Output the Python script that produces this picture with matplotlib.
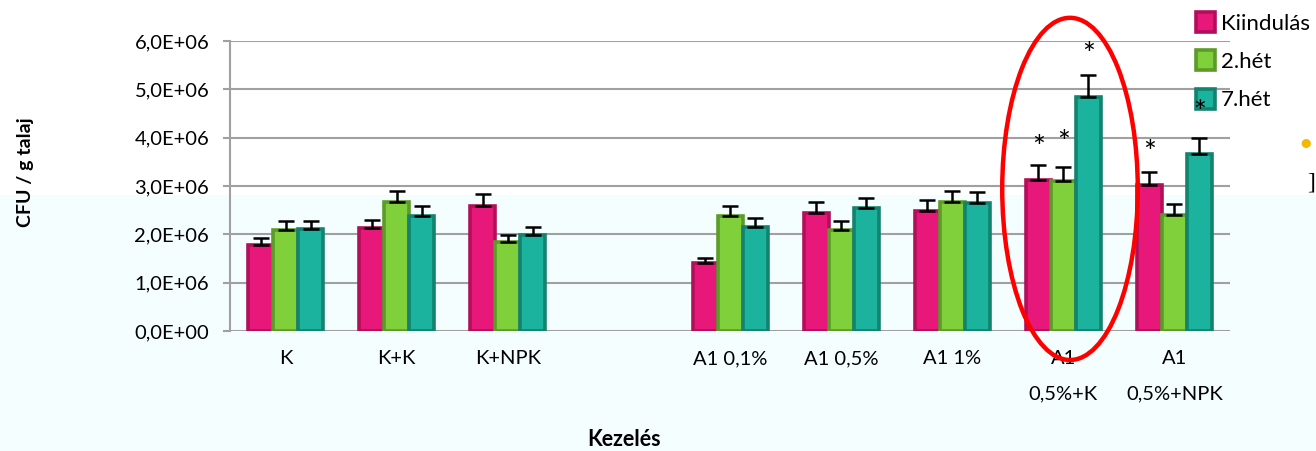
import matplotlib.pyplot as plt
import numpy as np
from matplotlib.patches import Ellipse, Rectangle

plt.rcParams['font.family'] = ['Lato', 'DejaVu Sans']

# treatments; the empty slot separates the controls from the A1 series
categories = ['K', 'K+K', 'K+NPK', '', 'A1 0,1%', 'A1 0,5%', 'A1 1%',
              'A1\n0,5%+K', 'A1\n0,5%+NPK']
series = ['Kiindulás', '2.hét', '7.hét']

kiindulas = [1.78e6, 2.13e6, 2.59e6, np.nan, 1.41e6, 2.44e6, 2.49e6, 3.13e6, 3.02e6]
het2 = [2.09e6, 2.66e6, 1.84e6, np.nan, 2.38e6, 2.08e6, 2.66e6, 3.11e6, 2.40e6]
het7 = [2.10e6, 2.37e6, 1.99e6, np.nan, 2.16e6, 2.54e6, 2.64e6, 4.85e6, 3.66e6]

err_kiindulas = [0.15e6, 0.17e6, 0.24e6, np.nan, 0.11e6, 0.22e6, 0.22e6, 0.30e6, 0.26e6]
err_het2 = [0.18e6, 0.23e6, 0.15e6, np.nan, 0.21e6, 0.19e6, 0.24e6, 0.29e6, 0.23e6]
err_het7 = [0.17e6, 0.21e6, 0.17e6, np.nan, 0.17e6, 0.22e6, 0.23e6, 0.45e6, 0.33e6]

# significance marks: (category index, series index, y position)
stars = [(7, 0, 3.78e6), (7, 1, 3.88e6), (7, 2, 5.7e6), (8, 0, 3.68e6), (8, 2, 4.5e6)]

faces = ['#e8187a', '#80d03c', '#1bb39d']
edges = ['#b20f5a', '#5d9b28', '#13826f']

fig = plt.figure(figsize=(13.16, 4.51), dpi=100)
fig.patch.set_facecolor('white')
fig.patches.append(Rectangle((0, 0), 1, 1 - 195 / 451, transform=fig.transFigure,
                             facecolor='#f5fefe', edgecolor='none', zorder=-10))

ax = fig.add_axes([230 / 1316, 1 - 331 / 451, 1000 / 1316, 290 / 451])
ax.patch.set_visible(False)

x = np.arange(len(categories))
w = 0.225
values = [kiindulas, het2, het7]
errors = [err_kiindulas, err_het2, err_het7]
for i in range(3):
    pos = x + (i - 1) * w
    ax.bar(pos, values[i], width=w, color=faces[i], edgecolor=edges[i],
           linewidth=2.6, label=series[i], zorder=3)
    ax.errorbar(pos, values[i], yerr=[np.zeros(len(x)), errors[i]], fmt='none',
                ecolor='black', elinewidth=1.8, capsize=5.5, capthick=1.8, zorder=4)

for ci, si, yv in stars:
    ax.text(x[ci] + (si - 1) * w, yv, '*', ha='center', va='center',
            fontsize=22, color='black', zorder=8, clip_on=False)

ax.set_xlim(-0.5, len(categories) - 0.5)
ax.set_ylim(0, 6e6)
ax.set_yticks(np.arange(0, 6.01e6, 1e6))
ax.set_yticklabels([f'{v:.1f}E+{"00" if v == 0 else "06"}'.replace('.', ',')
                    for v in np.arange(0, 6.01, 1.0)], fontsize=14.5)
ax.set_xticks(x)
ax.set_xticklabels(categories, fontsize=14.5, linespacing=2.3)
ax.tick_params(axis='x', length=0, pad=14)
ax.tick_params(axis='y', length=5, width=1.5, color='#a0a0a0', pad=10)
ax.yaxis.grid(True, color='#a0a0a0', linewidth=1.5, zorder=0)
for s in ['top', 'right', 'bottom']:
    ax.spines[s].set_visible(False)
ax.spines['left'].set_color('#a0a0a0')
ax.spines['left'].set_linewidth(1.5)

# highlight of the A1 0,5%+K group
ax.add_patch(Ellipse((7.06, 2.94e6), 1.22, 7.08e6, fill=False, edgecolor='#ff0000',
                     linewidth=3.2, clip_on=False, zorder=6))

leg = ax.legend(loc='upper left', bbox_to_anchor=(1184 / 1316, 1.0), bbox_transform=fig.transFigure,
                frameon=False, fontsize=16, handlelength=0.85, handleheight=1.0,
                handletextpad=0.25, labelspacing=0.75, borderaxespad=0.15)
leg.set_zorder(5)

fig.text(25 / 1316, 1 - 172 / 451, 'CFU / g talaj', rotation=90, ha='center', va='center',
         fontsize=14, fontweight='bold')
fig.text(624 / 1316, 1 - 440 / 451, 'Kezelés', ha='center', va='center',
         fontsize=15.5, fontweight='bold')

# leftover fragments at the right edge
fig.text(1306 / 1316, 1 - 143 / 451, '•', color='#f5b800', ha='center', va='center', fontsize=18)
fig.text(1311 / 1316, 1 - 183 / 451, ']', color='black', family='Liberation Serif',
         ha='center', va='center', fontsize=17)

fig.savefig('out.png', dpi=100)
